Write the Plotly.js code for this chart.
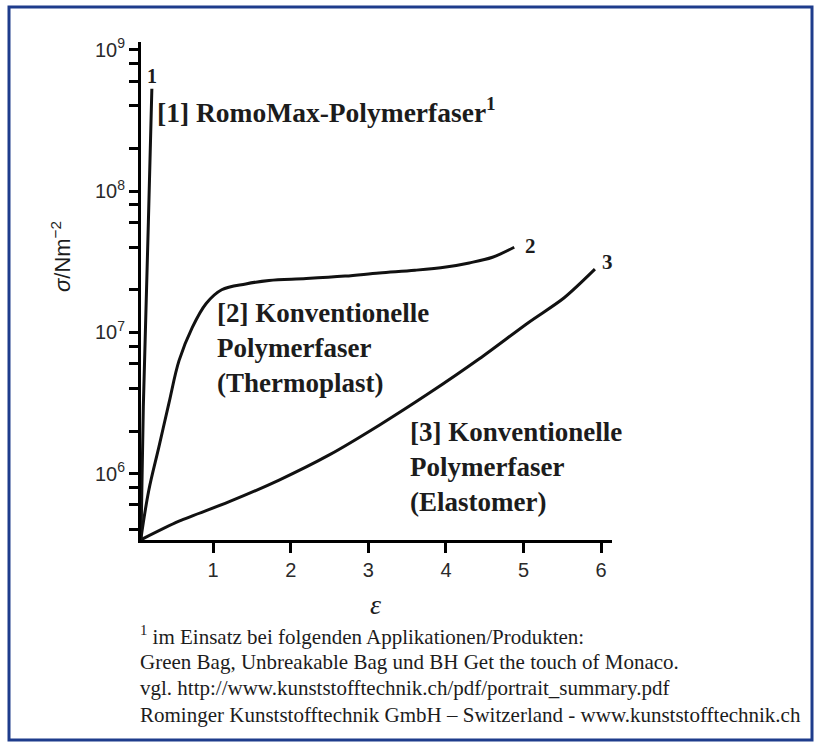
<!DOCTYPE html>
<html>
<head>
<meta charset="utf-8">
<script src="https://cdn.plot.ly/plotly-3.0.1.min.js"></script>
<style>
  html, body { margin: 0; padding: 0; background: #ffffff; }
  #chart { width: 819px; height: 746px; }
</style>
</head>
<body>
<div id="chart"></div>
<script>
// ---- data ----
// Curve 1: RomoMax-Polymerfaser
const eps1 = [0.07, 0.10, 0.165, 0.21];
const sig1 = [3.5e5, 3.0e6, 6.0e7, 5.3e8];
// Curve 2: Konventionelle Polymerfaser (Thermoplast)
const eps2 = [0.07, 0.17, 0.30, 0.43, 0.56, 0.73, 0.91, 1.11, 1.42, 1.72, 2.20, 2.70, 3.14, 3.60, 4.00, 4.30, 4.60, 4.88];
const sig2 = [3.5e5, 7.6e5, 1.54e6, 3.15e6, 6.3e6, 1.08e7, 1.6e7, 2.0e7, 2.2e7, 2.33e7, 2.4e7, 2.5e7, 2.63e7, 2.75e7, 2.9e7, 3.1e7, 3.4e7, 4.0e7];
// Curve 3: Konventionelle Polymerfaser (Elastomer)
const eps3 = [0.07, 0.56, 1.20, 1.85, 2.49, 3.14, 3.78, 4.43, 5.07, 5.52, 5.92];
const sig3 = [3.4e5, 4.6e5, 6.3e5, 9.0e5, 1.35e6, 2.2e6, 3.7e6, 6.5e6, 1.18e7, 1.75e7, 2.8e7];

const xTickVals = [1, 2, 3, 4, 5, 6];
const yMajorVals = [1e6, 1e7, 1e8, 1e9];
const yMajorText = ["10<sup>6</sup>", "10<sup>7</sup>", "10<sup>8</sup>", "10<sup>9</sup>"];
const yMinorVals = [4e5, 6e5, 8e5, 2e6, 4e6, 6e6, 8e6, 2e7, 4e7, 6e7, 8e7, 2e8, 4e8, 6e8, 8e8];

const curveNumbers = ["1", "2", "3"];
const label1 = "[1] RomoMax-Polymerfaser<sup>1</sup>";
const label2 = "[2] Konventionelle<br>Polymerfaser<br>(Thermoplast)";
const label3 = "[3] Konventionelle<br>Polymerfaser<br>(Elastomer)";
const yTitle = "<i>σ</i>/Nm<sup>−2</sup>";
const xTitle = "<i>ε</i>";
const footnoteLines = [
  "<sup>1</sup> im Einsatz bei folgenden Applikationen/Produkten:",
  "Green Bag, Unbreakable Bag und BH Get the touch of Monaco.",
  "vgl. http://www.kunststofftechnik.ch/pdf/portrait_summary.pdf",
  "Rominger Kunststofftechnik GmbH – Switzerland - www.kunststofftechnik.ch"
];

// combined tick list: majors labelled, minors unlabelled
const yTickVals = yMajorVals.concat(yMinorVals);
const yTickText = yMajorText.concat(yMinorVals.map(() => ""));

// ---- layout helpers (pixel -> paper) ----
const W = 819, H = 746;
const M = {l: 141, r: 207, t: 42, b: 206};
const PW = W - M.l - M.r, PH = H - M.t - M.b;
const px = x => (x - M.l) / PW;
const py = y => (H - M.b - y) / PH;

const serif = "Liberation Serif, Times New Roman, serif";
const sans = "Liberation Sans, Arial, sans-serif";
const ink = "#1c1c1c";

const lineStyle = {color: "#111111", width: 3};
const traces = [
  {x: eps1, y: sig1, mode: "lines", line: Object.assign({}, lineStyle), hoverinfo: "skip", name: "1"},
  {x: eps2, y: sig2, mode: "lines", line: Object.assign({shape: "spline", smoothing: 1.0}, lineStyle), hoverinfo: "skip", name: "2"},
  {x: eps3, y: sig3, mode: "lines", line: Object.assign({shape: "spline", smoothing: 0.8}, lineStyle), hoverinfo: "skip", name: "3"}
];

function ann(text, x, y, opts) {
  return Object.assign({
    text: text, xref: "paper", yref: "paper", x: px(x), y: py(y),
    showarrow: false, xanchor: "left", yanchor: "middle",
    font: {family: serif, size: 27, color: ink}, align: "left"
  }, opts || {});
}

const annotations = [
  ann("<b>" + curveNumbers[0] + "</b>", 152, 76, {xanchor: "center", font: {family: serif, size: 20, color: ink}}),
  ann("<b>" + curveNumbers[1] + "</b>", 530, 246, {xanchor: "center", font: {family: serif, size: 21, color: ink}}),
  ann("<b>" + curveNumbers[2] + "</b>", 607, 262, {xanchor: "center", font: {family: serif, size: 21, color: ink}}),
  ann("<b>" + label1 + "</b>", 155, 110, {font: {family: serif, size: 27.5, color: ink}}),
  ann("<b>" + label2 + "</b>", 215, 348),
  ann("<b>" + label3 + "</b>", 408, 467),
  ann(yTitle, 61, 257, {xanchor: "center", textangle: -90, font: {family: sans, size: 22, color: ink}}),
  ann(xTitle, 375, 604, {xanchor: "center", font: {family: serif, size: 28, color: ink}})
];
footnoteLines.forEach((t, i) => {
  annotations.push(ann(t, 138, 635 + i * 26.7, {font: {family: serif, size: 21, color: ink}}));
});

const layout = {
  width: W, height: H,
  margin: M,
  paper_bgcolor: "#ffffff",
  plot_bgcolor: "#ffffff",
  showlegend: false,
  xaxis: {
    range: [0.07, 6.14],
    showline: true, linecolor: "#000000", linewidth: 3,
    showgrid: false, zeroline: false,
    tickmode: "array", tickvals: xTickVals,
    ticks: "outside", ticklen: 10, tickwidth: 3, tickcolor: "#000000",
    tickfont: {family: sans, size: 20, color: "#2a2a2a"}
  },
  yaxis: {
    type: "log",
    range: [5.53, 9.055],
    showline: true, linecolor: "#000000", linewidth: 3,
    showgrid: false, zeroline: false,
    tickmode: "array", tickvals: yTickVals, ticktext: yTickText,
    ticks: "outside", ticklen: 9, tickwidth: 3, tickcolor: "#000000",
    tickfont: {family: sans, size: 20, color: "#2a2a2a"}
  },
  annotations: annotations,
  shapes: [{
    type: "rect", xref: "paper", yref: "paper",
    x0: px(9), x1: px(812), y0: py(740), y1: py(7),
    line: {color: "#1e3c8c", width: 3}, fillcolor: "rgba(0,0,0,0)", layer: "below"
  }]
};

Plotly.newPlot("chart", traces, layout, {staticPlot: true, displayModeBar: false});
</script>
</body>
</html>
